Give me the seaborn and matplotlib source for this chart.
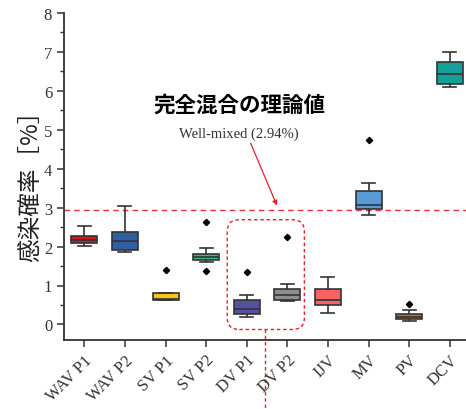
import matplotlib
matplotlib.use("Agg")
import matplotlib.pyplot as plt
from matplotlib.patches import FancyBboxPatch
from matplotlib.ticker import MultipleLocator, AutoMinorLocator
import seaborn as sns
import pandas as pd

# Infection probability samples (%) for each sampling point
categories = ["WAV P1", "WAV P2", "SV P1", "SV P2", "DV P1",
              "DV P2", "IJV", "MV", "PV", "DCV"]
wav_p1 = [2.01, 2.05, 2.09, 2.14, 2.18, 2.22, 2.27, 2.40, 2.52]
wav_p2 = [1.85, 1.88, 1.91, 2.05, 2.15, 2.25, 2.37, 2.70, 3.03]
sv_p1 = [0.62, 0.63, 0.64, 0.65, 0.66, 0.75, 0.81, 0.81, 1.41]
sv_p2 = [1.38, 1.60, 1.66, 1.70, 1.74, 1.77, 1.80, 1.97, 2.62]
dv_p1 = [0.20, 0.23, 0.26, 0.33, 0.40, 0.55, 0.64, 0.75, 1.34]
dv_p2 = [0.59, 0.61, 0.64, 0.70, 0.75, 0.85, 0.92, 1.03, 2.25]
ijv = [0.30, 0.40, 0.49, 0.55, 0.62, 0.75, 0.90, 1.05, 1.21]
mv = [2.80, 2.88, 2.97, 3.01, 3.06, 3.25, 3.42, 3.63, 4.74]
pv = [0.08, 0.10, 0.13, 0.17, 0.20, 0.23, 0.27, 0.38, 0.52]
dcv = [6.09, 6.13, 6.18, 6.30, 6.44, 6.60, 6.73, 6.90, 7.01]
samples = [wav_p1, wav_p2, sv_p1, sv_p2, dv_p1, dv_p2, ijv, mv, pv, dcv]

colors = ["#e5101a", "#2f5f9f", "#f5c518", "#3cb878", "#52529e",
          "#8e8e8e", "#f86262", "#5b9bd5", "#cf6a1e", "#13a098"]

well_mixed = 2.94

df = pd.DataFrame({
    "site": [c for c, s in zip(categories, samples) for _ in s],
    "prob": [v for s in samples for v in s],
})

serif = "Liberation Serif"
jp = "Noto Sans CJK JP"

fig = plt.figure(figsize=(4.66, 4.10), dpi=100)
ax = fig.add_axes([64 / 466, 1 - 341 / 410, 402 / 466, 327 / 410])

sns.boxplot(
    data=df, x="site", y="prob", hue="site", order=categories,
    hue_order=categories, palette=dict(zip(categories, colors)),
    saturation=1, legend=False, width=0.64, linecolor="#333333",
    linewidth=1.2, whis=1.5, ax=ax,
    flierprops=dict(marker="D", markersize=3.2, markerfacecolor="black",
                    markeredgecolor="black"),
    medianprops=dict(color="#333333", linewidth=1.2),
    capwidths=0.32,
)

ax.set_xlim(-0.5, 9.4)
ax.set_ylim(-0.4, 8.0)
ax.yaxis.set_major_locator(MultipleLocator(1))
ax.yaxis.set_minor_locator(AutoMinorLocator(2))

for side in ("top", "right"):
    ax.spines[side].set_visible(False)
for side in ("left", "bottom"):
    ax.spines[side].set_color("#333333")
    ax.spines[side].set_linewidth(1.3)

ax.tick_params(axis="both", which="major", direction="out", length=5,
               width=1.1, color="#333333", labelcolor="#333333")
ax.tick_params(axis="y", which="minor", direction="out", length=3,
               width=1.0, color="#333333")
ax.tick_params(axis="y", labelsize=12)

ax.set_xlabel("")
ax.set_xticks(range(len(categories)))
ax.set_xticklabels(categories, rotation=45, ha="right",
                   rotation_mode="anchor", fontsize=12, family=serif,
                   color="#333333")
for lbl in ax.get_yticklabels():
    lbl.set_family(serif)

ax.set_ylabel("感染確率［%］", family=[jp, "DejaVu Sans"], fontsize=17,
              color="#222222")
ax.yaxis.set_label_coords(-0.055, 0.49)

# Theoretical well-mixed level
ax.axhline(well_mixed, color="#e8303a", linestyle=(0, (4, 3)), lw=1.0,
           zorder=1)
ax.text(3.82, 5.65, "完全混合の理論値", family=[jp, "DejaVu Sans"],
        fontsize=15.5, fontweight="bold", ha="center", va="center",
        color="black")
ax.text(3.80, 4.9, "Well-mixed (2.94%)", family=serif, fontsize=10.5,
        ha="center", va="center", color="#333333")
ax.annotate("", xy=(4.77, well_mixed + 0.05), xytext=(4.07, 4.72),
            arrowprops=dict(arrowstyle="-|>", color="#e8202a", lw=0.9,
                            mutation_scale=7))

# Highlight around the DV sampling points
ax.add_patch(FancyBboxPatch(
    (3.52, -0.13), 1.90, 2.82,
    boxstyle="round,pad=0,rounding_size=0.3",
    fill=False, edgecolor="#e8202a", linestyle=(0, (2.5, 2)), lw=1.0,
    clip_on=False, zorder=1))
ax.plot([4.46, 4.46], [-0.13, -2.3], color="#e8202a",
        linestyle=(0, (2.5, 2)), lw=1.0, clip_on=False, zorder=1)

fig.savefig("out.png", dpi=100)
